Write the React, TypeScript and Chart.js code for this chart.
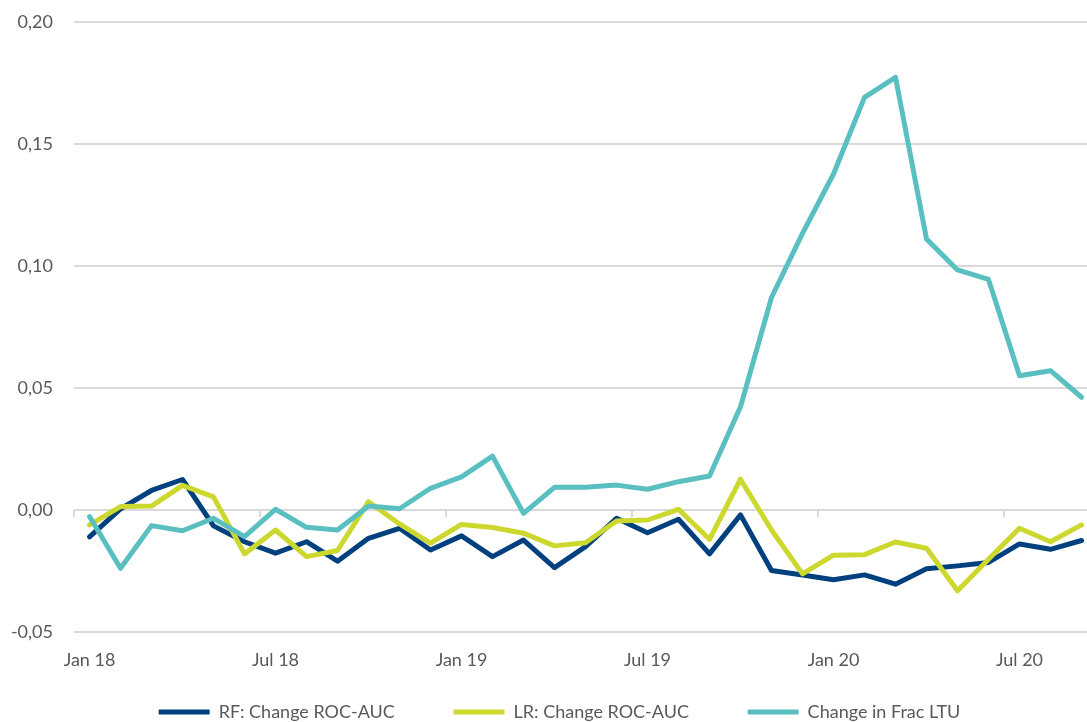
import React, { useEffect, useRef } from "react";
import { Chart, registerables } from "chart.js";

Chart.register(...registerables);

const categories = [
  "Jan 18", "Feb 18", "Mar 18", "Apr 18", "May 18", "Jun 18", "Jul 18", "Aug 18", "Sep 18", "Oct 18", "Nov 18", "Dec 18",
  "Jan 19", "Feb 19", "Mar 19", "Apr 19", "May 19", "Jun 19", "Jul 19", "Aug 19", "Sep 19", "Oct 19", "Nov 19", "Dec 19",
  "Jan 20", "Feb 20", "Mar 20", "Apr 20", "May 20", "Jun 20", "Jul 20", "Aug 20", "Sep 20",
];

const rfChange = [
  -0.011, 0.0005, 0.008, 0.0125, -0.0065, -0.013, -0.0177, -0.013, -0.021, -0.0116, -0.0075, -0.0164,
  -0.0106, -0.0191, -0.0123, -0.0236, -0.015, -0.0034, -0.0093, -0.0038, -0.018, -0.002, -0.0248, -0.0266,
  -0.0286, -0.0266, -0.0304, -0.0241, -0.0229, -0.0215, -0.0139, -0.0161, -0.0125,
];

const lrChange = [
  -0.0061, 0.0014, 0.0016, 0.0101, 0.0054, -0.018, -0.0082, -0.0191, -0.0166, 0.0034, -0.0057, -0.0136,
  -0.0059, -0.0072, -0.0095, -0.0147, -0.0134, -0.0045, -0.0041, 0.0003, -0.012, 0.0126, -0.0082, -0.0262,
  -0.0185, -0.0183, -0.0131, -0.0157, -0.0331, -0.0202, -0.0075, -0.013, -0.0061,
];

const fracLtuChange = [
  -0.0027, -0.0239, -0.0064, -0.0085, -0.0034, -0.0109, 0.0003, -0.0071, -0.0082, 0.0016, 0.0005, 0.0089,
  0.0136, 0.0221, -0.0014, 0.0093, 0.0093, 0.0102, 0.0085, 0.0116, 0.0139, 0.0423, 0.0871, 0.1134,
  0.1377, 0.1691, 0.1773, 0.1111, 0.0984, 0.0945, 0.055, 0.0571, 0.0462,
];

const seriesNames = ["RF: Change ROC-AUC", "LR: Change ROC-AUC", "Change in Frac LTU"];
const yTicks = [-0.05, 0, 0.05, 0.1, 0.15, 0.2];
const labelEvery = 6;

const TEXT = "#595959";
const GRID = "#d9d9d9";

const zeroTicks = {
  id: "zeroTicks",
  beforeDatasetsDraw(chart: any) {
    const xs = chart.scales.x;
    const ys = chart.scales.y;
    const y0 = ys.getPixelForValue(0);
    const half = (xs.getPixelForValue(1) - xs.getPixelForValue(0)) / 2;
    const ctx = chart.ctx;
    ctx.save();
    ctx.strokeStyle = GRID;
    ctx.lineWidth = 2;
    for (let i = 0; i <= categories.length; i += labelEvery) {
      const x = Math.round(xs.getPixelForValue(i) - half);
      ctx.beginPath();
      ctx.moveTo(x, y0);
      ctx.lineTo(x, y0 + 7);
      ctx.stroke();
    }
    ctx.restore();
  },
};

export default function App() {
  const ref = useRef<HTMLCanvasElement | null>(null);

  useEffect(() => {
    if (!ref.current) return;
    Chart.defaults.font.family = "Lato";
    Chart.defaults.font.size = 18;
    Chart.defaults.color = TEXT;
    const mk = (label: string, data: number[], color: string, order: number) => ({
      label,
      data,
      borderColor: color,
      backgroundColor: color,
      borderWidth: 5,
      pointRadius: 0,
      pointHoverRadius: 0,
      tension: 0,
      borderCapStyle: "round" as const,
      borderJoinStyle: "round" as const,
      fill: false,
      order,
    });
    const legendTrail = ["      ", "      ", ""];
    const chart = new Chart(ref.current, {
      type: "line",
      data: {
        labels: categories,
        datasets: [
          mk(seriesNames[0], rfChange, "#00407e", 3),
          mk(seriesNames[1], lrChange, "#cdd82e", 2),
          mk(seriesNames[2], fracLtuChange, "#59bfc0", 1),
        ],
      },
      options: {
        animation: false,
        responsive: false,
        layout: { padding: { top: 22, right: 0, left: 0, bottom: 0 } },
        plugins: {
          tooltip: { enabled: false },
          legend: {
            position: "bottom",
            labels: {
              usePointStyle: true,
              pointStyle: "line",
              pointStyleWidth: 51,
              padding: 31,
              color: TEXT,
              font: { size: 18 },
              sort: (a: any, b: any) => a.datasetIndex - b.datasetIndex,
              generateLabels: (c: any) => {
                const items = Chart.defaults.plugins.legend.labels.generateLabels(c);
                return items.map((it: any) => ({ ...it, text: it.text + legendTrail[it.datasetIndex] }));
              },
            },
          },
        },
        scales: {
          x: {
            type: "category",
            offset: true,
            grid: { display: false, drawTicks: false },
            border: { display: false },
            afterFit: (s: any) => {
              s.height = 40;
            },
            ticks: {
              autoSkip: false,
              maxRotation: 0,
              padding: 17,
              color: TEXT,
              callback: (_v: any, i: number) => (i % labelEvery === 0 ? categories[i] : ""),
            },
          },
          y: {
            min: yTicks[0],
            max: yTicks[yTicks.length - 1],
            afterFit: (s: any) => {
              s.width = 74;
            },
            afterBuildTicks: (s: any) => {
              s.ticks = yTicks.map((v) => ({ value: v }));
            },
            grid: { color: GRID, lineWidth: 2, drawTicks: true, tickLength: 21, tickColor: "rgba(0,0,0,0)" },
            border: { display: false },
            ticks: {
              padding: 0,
              color: TEXT,
              callback: (v: any) => Number(v).toFixed(2).replace(".", ","),
            },
          },
          yRight: {
            type: "linear",
            position: "right",
            display: true,
            grid: { display: false, drawTicks: false },
            border: { display: false },
            ticks: { display: false, padding: 0 },
            afterFit: (s: any) => {
              s.width = 22;
            },
          },
        },
      },
      plugins: [zeroTicks],
    });
    return () => chart.destroy();
  }, []);

  return (
    <div style={{ position: "fixed", left: 0, top: 0, width: 1087, height: 722, overflow: "hidden", background: "#fff" }}>
      <canvas ref={ref} width={1119} height={731} style={{ display: "block" }} />
    </div>
  );
}
